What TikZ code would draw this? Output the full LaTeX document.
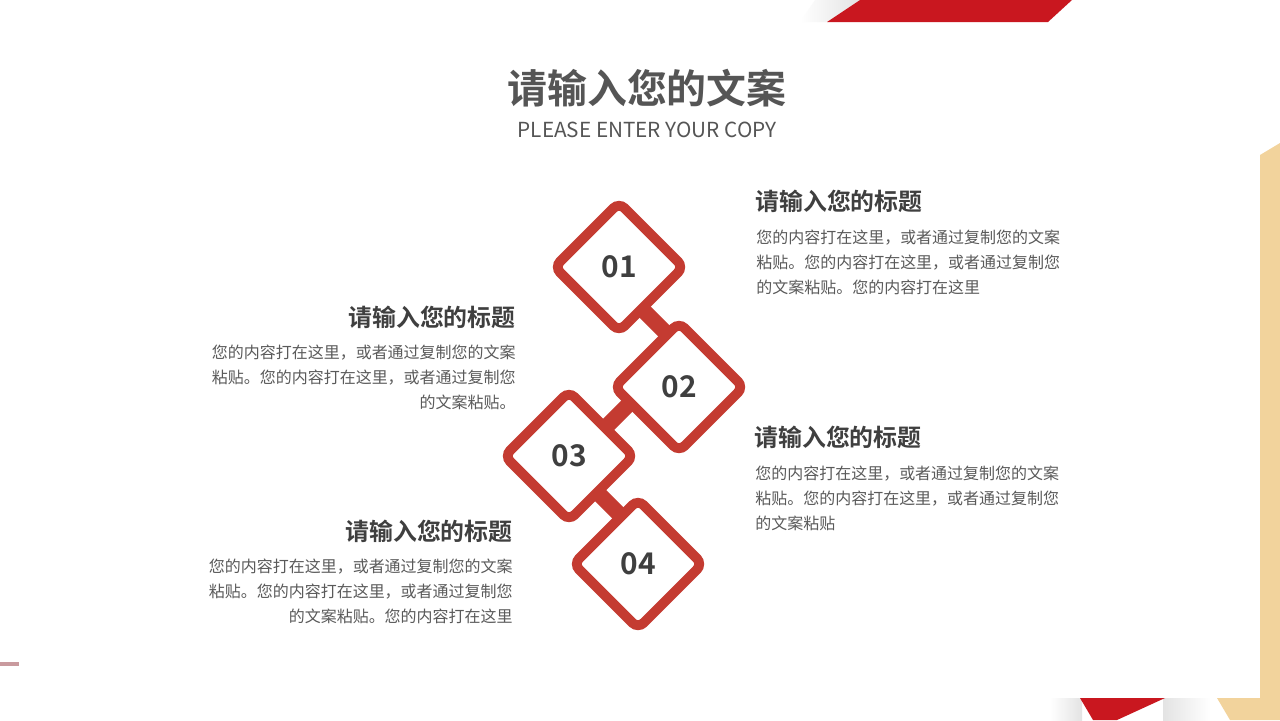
\documentclass[tikz,border=0pt]{standalone}
\usepackage{fontspec}
\setmainfont{Noto Sans CJK SC}[BoldFont={Noto Sans CJK SC Bold}]
\usetikzlibrary{shapes.geometric, calc}

\definecolor{diamred}{HTML}{C43B31}
\definecolor{barred}{HTML}{C9171F}
\definecolor{beige}{HTML}{F2D39C}
\definecolor{markpink}{HTML}{C99A9E}
\definecolor{titlegray}{HTML}{555555}
\definecolor{headgray}{HTML}{3F3F3F}
\definecolor{bodygray}{HTML}{5A5A5A}

\begin{document}
\begin{tikzpicture}[
    x=0.02cm, y=-0.02cm,
    every node/.style={inner sep=0pt},
    diam/.style={diamond, draw=diamred, fill=white, line width=5.6pt, rounded corners=4.5pt,
                 minimum size=2.66cm, font=\bfseries\fontsize{17}{17}\selectfont, text=headgray},
    link/.style={draw=diamred, line width=9pt},
    head/.style={font=\bfseries\fontsize{13.6}{16}\selectfont, text=headgray},
    body/.style={font=\fontsize{9.1}{14.2}\selectfont, text=bodygray}
]

% ----------------------
% Frame
% ----------------------

\useasboundingbox (0,0) rectangle (1280,720);
\fill[white] (0,0) rectangle (1280,720);

% shadows of the card
\shade[left color=white, right color=gray!22] (815,0) -- (860,0) -- (827,22) -- (800,22) -- cycle;
\shade[left color=white, right color=gray!22] (1050,698) rectangle (1082,720);
\shade[left color=gray!22, right color=white] (1163,698) rectangle (1210,720);

% red bar on top
\fill[barred] (860,0) -- (1072,0) -- (1048,22) -- (827,22) -- cycle;

% beige strip on the right and below
\fill[beige] (1260,155) -- (1280,143) -- (1280,720) -- (1230,720) -- (1217,698) -- (1260,698) -- cycle;

% red corner at the bottom
\fill[barred] (1080,698) -- (1165,698) -- (1117,720) -- (1093,720) -- cycle;

% small mark on the left
\draw[markpink, line width=2pt] (0,664) -- (19,664);

% ----------------------
% Title
% ----------------------

\node[anchor=base, font=\bfseries\fontsize{22.7}{26}\selectfont, text=titlegray] (title) at (647,103) {请输入您的文案};
\node[anchor=base, font=\fontsize{11.8}{14}\selectfont, text=titlegray] (subtitle) at (647,137) {PLEASE ENTER YOUR COPY};

% ----------------------
% Links
% ----------------------

\coordinate (j12) at (655,322);
\coordinate (j23) at (620,413);
\coordinate (j34) at (610,505);

\draw[link] (j12) +(-24,-24) -- +(24,24);
\draw[link] (j23) +(24,-24) -- +(-24,24);
\draw[link] (j34) +(-24,-24) -- +(24,24);

% ----------------------
% Diamonds
% ----------------------

\node[diam] (d1) at (619,267) {01};
\node[diam] (d2) at (679,387) {02};
\node[diam] (d3) at (569,456) {03};
\node[diam] (d4) at (638,564) {04};

% ----------------------
% Texts
% ----------------------

% item 01, right
\node[head, anchor=base west] (h1) at (755,210) {请输入您的标题};
\node[body, anchor=north west, align=left] (b1) at (756,230) {您的内容打在这里，或者通过复制您的文案\\粘贴。您的内容打在这里，或者通过复制您\\的文案粘贴。您的内容打在这里};

% item 02, left
\node[head, anchor=base east] (h2) at (516,326) {请输入您的标题};
\node[body, anchor=north east, align=right] (b2) at (516,345) {您的内容打在这里，或者通过复制您的文案\\粘贴。您的内容打在这里，或者通过复制您\\的文案粘贴。};

% item 03, right
\node[head, anchor=base west] (h3) at (754,446) {请输入您的标题};
\node[body, anchor=north west, align=left] (b3) at (755,466) {您的内容打在这里，或者通过复制您的文案\\粘贴。您的内容打在这里，或者通过复制您\\的文案粘贴};

% item 04, left
\node[head, anchor=base east] (h4) at (513,540) {请输入您的标题};
\node[body, anchor=north east, align=right] (b4) at (513,559) {您的内容打在这里，或者通过复制您的文案\\粘贴。您的内容打在这里，或者通过复制您\\的文案粘贴。您的内容打在这里};

\end{tikzpicture}
\end{document}
